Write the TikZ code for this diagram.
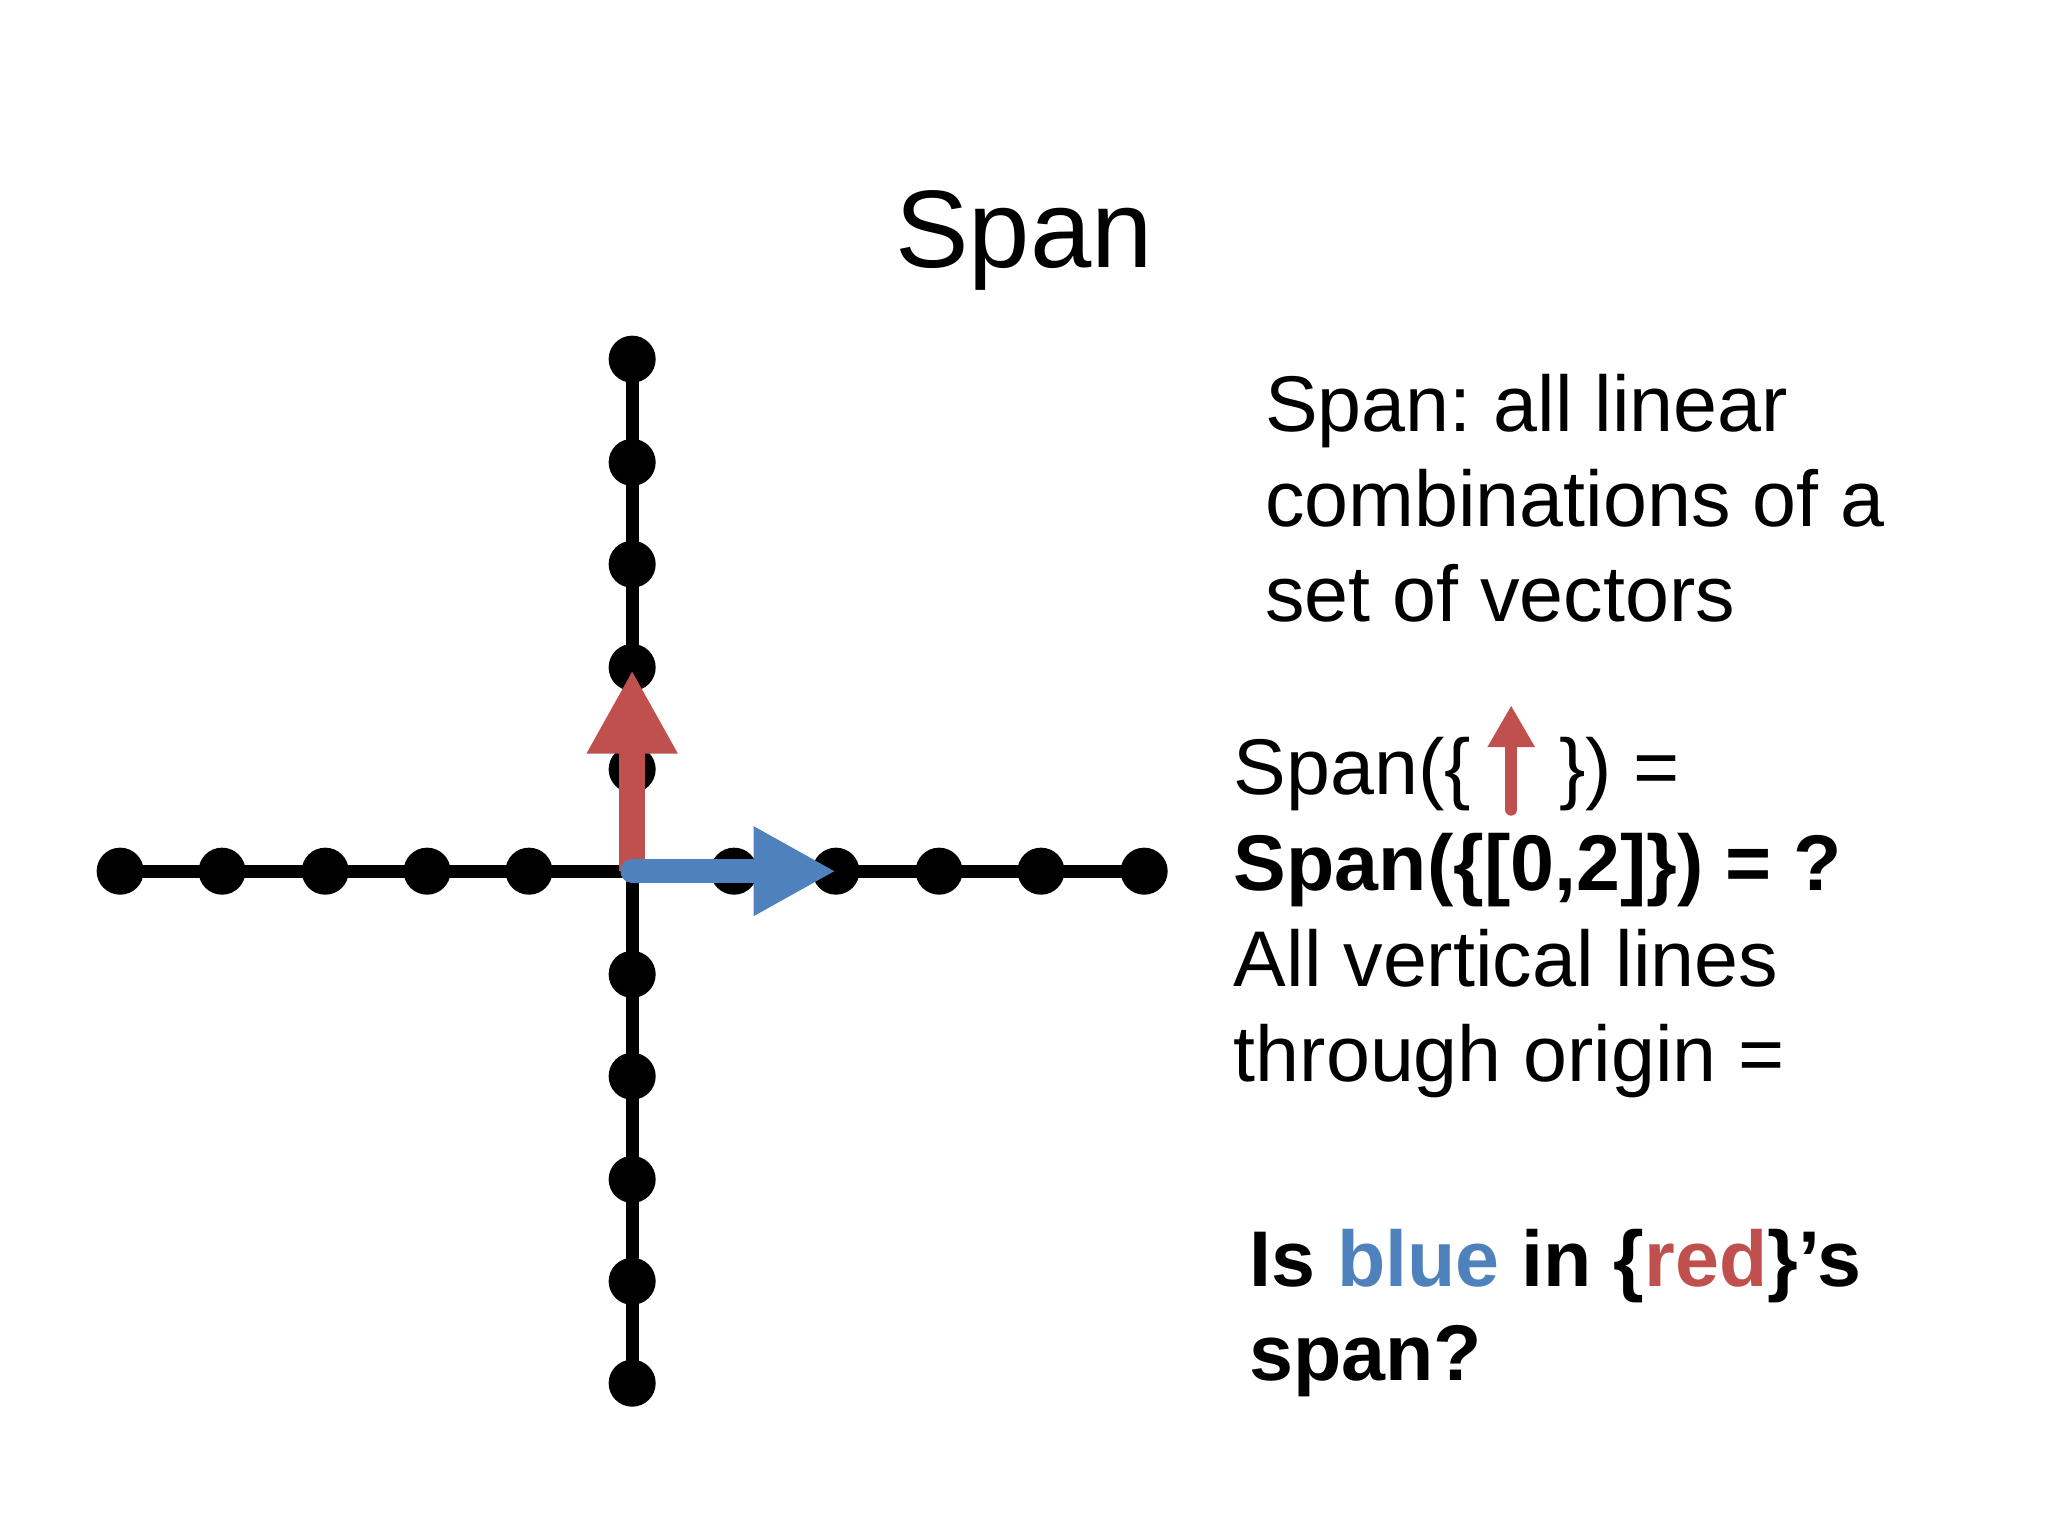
\documentclass[tikz,border=0pt]{standalone}
\usepackage{fontspec}
\setmainfont{Liberation Sans}
\usetikzlibrary{arrows.meta}
\definecolor{vred}{HTML}{C0504D}
\definecolor{vblue}{HTML}{4F81BD}
\frenchspacing
\begin{document}
\begin{tikzpicture}[x=0.01cm,y=-0.01cm,
  dot/.style={circle,fill=black,inner sep=0pt,minimum size=0.36cm},
  txt/.style={anchor=base west,inner sep=0pt,font=\fontsize{17.2pt}{20.8pt}\selectfont},
  btxt/.style={txt,font=\fontsize{17.2pt}{20.8pt}\selectfont\bfseries},
  axis/.style={line width=0.1cm,black}]
\useasboundingbox (0,0) rectangle (1568,1176);
\node[anchor=base,inner sep=0pt,font=\fontsize{24pt}{28pt}\selectfont] (title) at (784,205) {Span};
% axes
\coordinate (o) at (484,667);
\node[dot] (h1) at (92,667) {};
\node[dot] (h11) at (876,667) {};
\node[dot] (v1) at (484,275) {};
\node[dot] (v11) at (484,1059) {};
\draw[axis] (h1.center) -- (h11.center);
\draw[axis] (v1.center) -- (v11.center);
\foreach \i in {170,249,327,405,562,640,719,797} \node[dot] at (\i,667) {};
\foreach \j in {354,432,511,589,746,824,903,981} \node[dot] at (484,\j) {};
% vectors
\coordinate (rt) at (484,513);
\coordinate (bt) at (640,667);
\draw[vred,line width=0.2cm,-{Triangle[length=0.64cm,width=0.65cm]}] (o) -- (rt);
\draw[vblue,line width=0.18cm,line cap=round,-{Triangle[length=0.63cm,width=0.64cm]}] (o) -- (bt);
% text
\node[txt] (t1) at (968,330) {Span: all linear};
\node[txt] (t2) at (968,403) {combinations of a};
\node[txt] (t3) at (968,476) {set of vectors};
\node[txt] (t4) at (944,608) {Span(\{};
\node[txt] (t5) at (1193,608) {\}) =};
\coordinate (sa) at (1157,620);
\coordinate (sb) at (1157,540);
\draw[vred,line width=0.09cm,line cap=round,-{Triangle[length=0.32cm,width=0.34cm]}] (sa) -- (sb);
\node[btxt] (t6) at (944,682) {Span(\{[0,2]\}) = ?};
\node[txt] (t7) at (944,755) {All vertical lines};
\node[txt] (t8) at (944,828) {through origin =};
\node[btxt] (t9) at (956,985) {Is \textcolor{vblue}{blue} in \{\textcolor{vred}{red}\}’s};
\node[btxt] (t10) at (956,1057) {span?};
\end{tikzpicture}
\end{document}
